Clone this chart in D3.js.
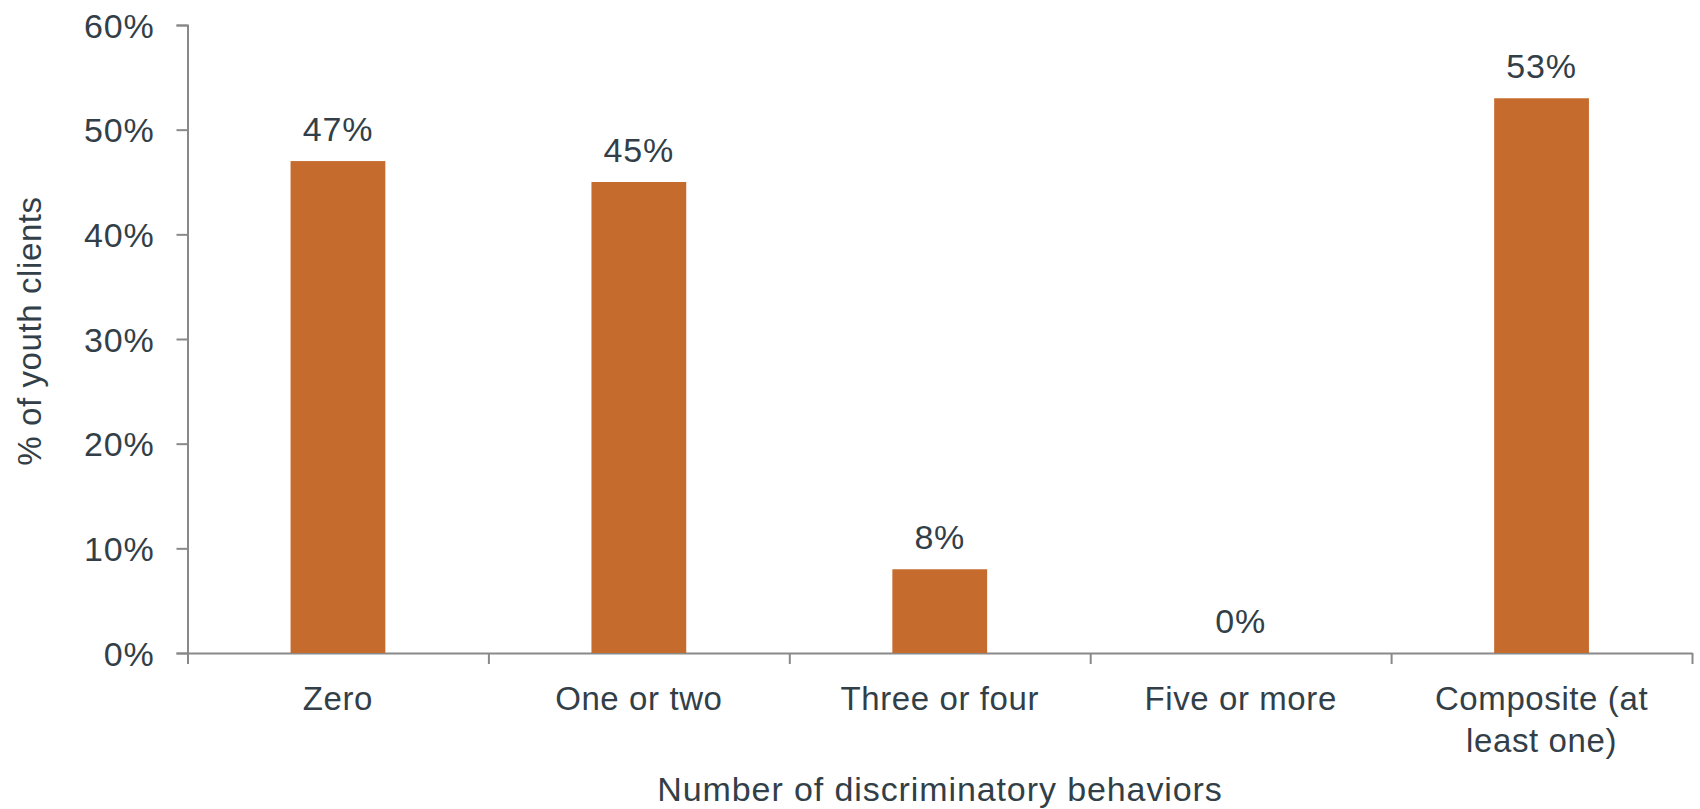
<!DOCTYPE html>
<html>
<head>
<meta charset="utf-8">
<script src="https://cdn.jsdelivr.net/npm/d3@7"></script>
<style>
  body { margin: 0; background: #fff; }
  #chart1 text { font-family: "Liberation Sans", Arial, sans-serif; fill: #333f48; }
</style>
</head>
<body>
<div id="chart1"></div>
<script>
var categories = ['Zero', 'One or two', 'Three or four', 'Five or more', 'Composite (at least one)'],
    values = [47, 45, 8, 0, 53],
    yTicks = [0, 10, 20, 30, 40, 50, 60],
    xTitle = 'Number of discriminatory behaviors',
    yTitle = '% of youth clients';

var width = 1700,
    height = 809,
    margin = { top: 25, right: 8, bottom: 156, left: 187.5 },
    innerW = width - margin.left - margin.right,
    innerH = height - margin.top - margin.bottom,
    fontSize = 33,
    numSize = 34,
    axisColor = '#898989',
    barColor = '#c66b2e';

var svg = d3.select('#chart1').append('svg')
  .attr('width', width)
  .attr('height', height);

var g = svg.append('g')
  .attr('transform', 'translate(' + margin.left + ',' + margin.top + ')');

var yScale = d3.scaleLinear()
  .domain([0, 60])
  .range([innerH, 0]);

// bars take ~31% of each category slot, centred in it
var xScale = d3.scaleBand()
  .domain(categories)
  .range([0, innerW])
  .paddingInner(0.685)
  .paddingOuter(0.3425);

// boundary ticks between categories
var xEdges = d3.scaleLinear()
  .domain([0, categories.length])
  .range([0, innerW]);

var yAxis = d3.axisLeft(yScale)
  .tickValues(yTicks)
  .tickSize(11)
  .tickPadding(22)
  .tickFormat(function(d) { return d + '%'; });

var yGuide = g.append('g').call(yAxis);
yGuide.select('.domain').attr('stroke', axisColor).attr('stroke-width', 2);
yGuide.selectAll('.tick line').attr('stroke', axisColor).attr('stroke-width', 2);
yGuide.selectAll('.tick text')
  .attr('font-size', numSize)
  .attr('dy', '0.36em')
  .style('letter-spacing', '0.8px');

var xEdgeAxis = d3.axisBottom(xEdges)
  .tickValues(d3.range(categories.length + 1))
  .tickSize(11)
  .tickSizeOuter(0)
  .tickFormat('');

var xGuide = g.append('g')
  .attr('transform', 'translate(0,' + innerH + ')')
  .call(xEdgeAxis);
xGuide.select('.domain').attr('stroke', axisColor).attr('stroke-width', 2);
xGuide.selectAll('.tick line').attr('stroke', axisColor).attr('stroke-width', 2);

var xLabels = d3.axisBottom(xScale).tickSize(0).tickPadding(0);
var xLab = g.append('g')
  .attr('transform', 'translate(0,' + innerH + ')')
  .call(xLabels);
xLab.select('.domain').remove();
xLab.selectAll('.tick text')
  .attr('font-size', fontSize)
  .attr('y', 57)
  .attr('dy', 0)
  .style('letter-spacing', '0.6px')
  .call(wrap, 280);

function wrap(texts, maxW) {
  texts.each(function() {
    var text = d3.select(this),
        words = text.text().split(/\s+/),
        lines = [],
        line = [];
    text.text(null);
    var probe = text.append('tspan');
    words.forEach(function(w) {
      line.push(w);
      probe.text(line.join(' '));
      if (probe.node().getComputedTextLength() > maxW && line.length > 1) {
        line.pop();
        lines.push(line.join(' '));
        line = [w];
      }
    });
    lines.push(line.join(' '));
    probe.remove();
    lines.forEach(function(l, i) {
      text.append('tspan')
        .attr('x', 0)
        .attr('y', 57 + i * 42)
        .text(l);
    });
  });
}

g.selectAll('rect.bar').data(values)
  .enter().append('rect')
    .attr('class', 'bar')
    .attr('fill', barColor)
    .attr('x', function(d, i) { return xScale(categories[i]); })
    .attr('width', xScale.bandwidth())
    .attr('y', function(d) { return yScale(d); })
    .attr('height', function(d) { return innerH - yScale(d); });

g.selectAll('text.val').data(values)
  .enter().append('text')
    .attr('class', 'val')
    .attr('text-anchor', 'middle')
    .attr('font-size', numSize)
    .style('letter-spacing', '0.8px')
    .attr('x', function(d, i) { return xScale(categories[i]) + xScale.bandwidth() / 2; })
    .attr('y', function(d) { return yScale(d) - 20; })
    .text(function(d) { return d + '%'; });

svg.append('text')
  .attr('text-anchor', 'middle')
  .attr('font-size', 34)
  .style('letter-spacing', '0.9px')
  .attr('x', 940)
  .attr('y', 801)
  .text(xTitle);

svg.append('text')
  .attr('text-anchor', 'middle')
  .attr('font-size', fontSize)
  .style('letter-spacing', '0.6px')
  .attr('transform', 'translate(41,331) rotate(-90)')
  .text(yTitle);
</script>
</body>
</html>
